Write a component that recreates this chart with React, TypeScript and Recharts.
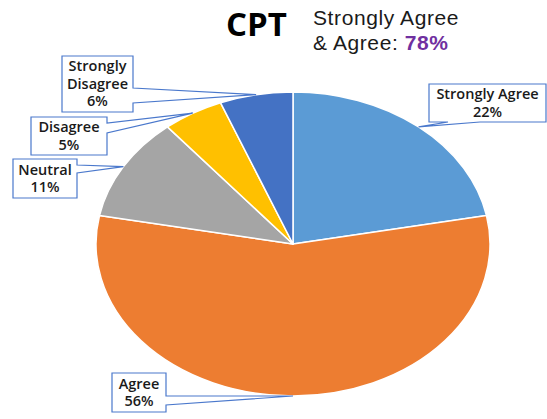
import { Pie, PieChart, Cell } from "recharts";

const categories = ["Strongly Agree", "Agree", "Neutral", "Disagree", "Strongly Disagree"];
const shares = [22, 56, 11, 5, 6];
const labelLines = [["Strongly Agree"], ["Agree"], ["Neutral"], ["Disagree"], ["Strongly", "Disagree"]];
const agreeTotal = shares[0] + shares[1];

const colors = ["#5B9BD5", "#ED7D31", "#A5A5A5", "#FFC000", "#4472C4"];
const outline = "#4A78CC";
const font = "'Open Sans', sans-serif";

// vertical squash of the pie (drawn as an ellipse)
const RATIO = 152 / 197;

// callout box layout, per slice
const callouts = [
  { x: 429, y: 84, w: 117, h: 38, side: "bottom", a: 448, b: 480 },
  { x: 112, y: 373, w: 54, h: 39, side: "right", a: 396, b: 405 },
  { x: 13, y: 159, w: 64, h: 39, side: "right", a: 165, b: 173 },
  { x: 31, y: 117, w: 76, h: 38, side: "right", a: 123, b: 133 },
  { x: 62, y: 56, w: 71, h: 56, side: "right", a: 88, b: 103 },
];

const data = categories.map((name, i) => ({ name, value: shares[i] }));

const RAD = Math.PI / 180;

function ellipsePoint(cx: number, cy: number, rx: number, angle: number) {
  return { x: cx + rx * Math.cos(angle * RAD), y: cy - rx * RATIO * Math.sin(angle * RAD) };
}

function EllipseSector(props: any) {
  const { cx, cy, outerRadius, startAngle, endAngle, fill } = props;
  const p1 = ellipsePoint(cx, cy, outerRadius, startAngle);
  const p2 = ellipsePoint(cx, cy, outerRadius, endAngle);
  const large = Math.abs(startAngle - endAngle) > 180 ? 1 : 0;
  const sweep = startAngle > endAngle ? 1 : 0;
  const d = `M${cx},${cy} L${p1.x},${p1.y} A${outerRadius},${outerRadius * RATIO} 0 ${large} ${sweep} ${p2.x},${p2.y} Z`;
  return <path d={d} fill={fill} stroke="#fff" strokeWidth={1.5} strokeLinejoin="round" />;
}

function Callout(props: any) {
  const { cx, cy, outerRadius, midAngle, index, value } = props;
  const c = callouts[index];
  const tip = ellipsePoint(cx, cy, outerRadius, midAngle);
  const r = c.x + c.w;
  const btm = c.y + c.h;
  const d =
    c.side === "right"
      ? `M${c.x},${c.y} L${r},${c.y} L${r},${c.a} L${tip.x},${tip.y} L${r},${c.b} L${r},${btm} L${c.x},${btm} Z`
      : `M${c.x},${c.y} L${r},${c.y} L${r},${btm} L${c.b},${btm} L${tip.x},${tip.y} L${c.a},${btm} L${c.x},${btm} Z`;
  const lines = [...labelLines[index], `${value}%`];
  const lh = 17.5;
  const top = c.y + c.h / 2 - (lines.length * lh) / 2 + 13.5;
  return (
    <g>
      <path d={d} fill="#fff" stroke={outline} strokeWidth={1.2} strokeLinejoin="miter" />
      <text
        x={c.x + c.w / 2}
        y={top}
        textAnchor="middle"
        fontFamily={font}
        fontSize={14.5}
        fontWeight={600}
        fill="#1a1a1a"
      >
        {lines.map((t, k) => (
          <tspan key={k} x={c.x + c.w / 2} y={top + k * lh}>
            {t}
          </tspan>
        ))}
      </text>
    </g>
  );
}

// compact metrics so the two stacked lines sit close like the original
const titleLine = {
  position: "absolute" as const,
  left: 313,
  fontFamily: "'Liberation Sans', Arial, sans-serif",
  fontSize: 21,
  lineHeight: "24px",
  letterSpacing: 0.6,
  color: "#1a1a1a",
  whiteSpace: "nowrap" as const,
};

export default function App() {
  return (
    <div style={{ position: "absolute", left: 0, top: 0, width: 547, height: 419, background: "#fff" }}>
      <div
        style={{
          position: "absolute",
          left: 226,
          top: 1,
          fontFamily: font,
          fontWeight: 700,
          fontSize: 33,
          color: "#000",
        }}
      >
        CPT
      </div>
      <div style={{ ...titleLine, top: 6 }}>Strongly Agree</div>
      <div style={{ ...titleLine, top: 31 }}>
        & Agree: <span style={{ color: "#7030A0", fontWeight: 700 }}>{agreeTotal}%</span>
      </div>
      <PieChart
        width={547}
        height={419}
        margin={{ top: 0, right: 0, bottom: 0, left: 0 }}
        style={{ position: "absolute", left: 0, top: 0 }}
      >
        <Pie
          data={data}
          dataKey="value"
          nameKey="name"
          cx={293}
          cy={244}
          outerRadius={197}
          startAngle={90}
          endAngle={-270}
          isAnimationActive={false}
          shape={EllipseSector}
          activeShape={EllipseSector}
          label={Callout}
          labelLine={false}
        >
          {data.map((d, i) => (
            <Cell key={d.name} fill={colors[i]} />
          ))}
        </Pie>
      </PieChart>
    </div>
  );
}
